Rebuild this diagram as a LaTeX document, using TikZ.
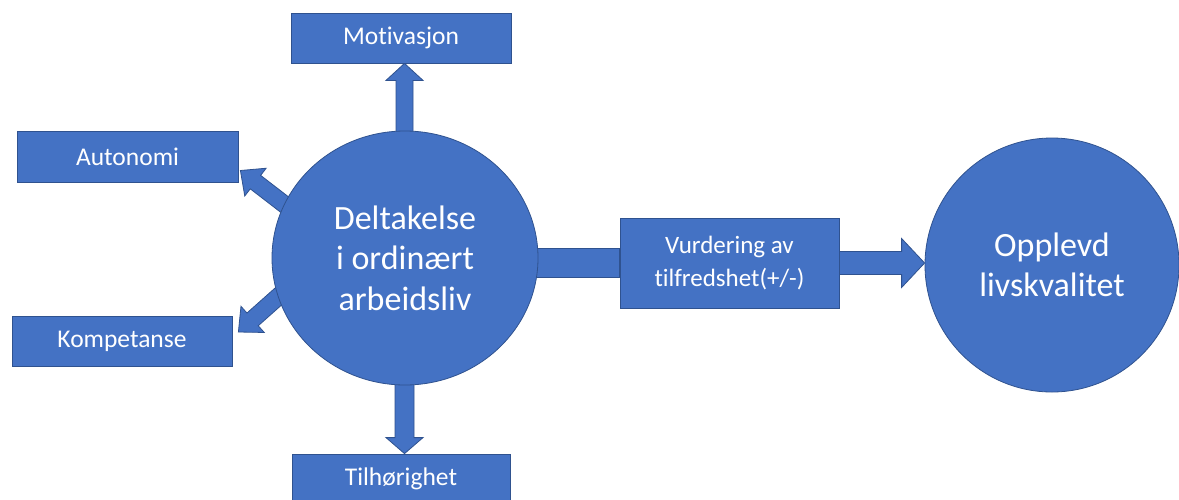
\documentclass[tikz,border=0pt]{standalone}
\usepackage{fontspec}
\setmainfont[Ligatures=NoCommon]{Carlito}
\usetikzlibrary{calc,backgrounds,shapes.geometric}
\definecolor{ofblue}{HTML}{4472C4}
\definecolor{ofedge}{HTML}{2F528F}
% block arrow: from, to, shaft half width, head half width, head length
\newcommand\blockarr[5]{%
  \coordinate (ba-c) at ($(#2)!#5!(#1)$);
  \filldraw[arrowsty] ($(#1)!#3!90:(#2)$) -- ($(ba-c)!#3!90:(#2)$)
    -- ($(ba-c)!#4!90:(#2)$) -- (#2) -- ($(ba-c)!#4!-90:(#2)$)
    -- ($(ba-c)!#3!-90:(#2)$) -- ($(#1)!#3!-90:(#2)$) -- cycle;
}
\begin{document}
\begin{tikzpicture}[x=1pt,y=-1pt,
  boxsty/.style={draw=ofedge, line width=0.8pt, fill=ofblue, text=white,
    inner sep=0pt, font=\fontsize{25.5}{30}\selectfont},
  bigsty/.style={draw=ofedge, line width=0.8pt, fill=ofblue, text=white,
    inner sep=0pt, align=center, font=\fontsize{34}{40.5}\selectfont},
  arrowsty/.style={draw=ofedge, line width=0.8pt, fill=ofblue, line join=miter}]
\useasboundingbox (0,0) rectangle (1179,499);

\node[bigsty, ellipse, minimum width=266pt, minimum height=254pt] (D) at (405,258)
  {Deltakelse\\i ordinært\\arbeidsliv};
\node[bigsty, circle, minimum size=254pt] (O) at (1052,265)
  {Opplevd\\livskvalitet};

\node[boxsty, minimum width=220pt, minimum height=50pt] (mot) at (401,38) {Motivasjon};
\node[boxsty, minimum width=221pt, minimum height=51pt] (aut) at (127.5,156.5) {Autonomi};
\node[boxsty, minimum width=220pt, minimum height=50pt] (kom) at (122,341) {Kompetanse};
\node[boxsty, minimum width=218pt, minimum height=50pt] (til) at (401,479) {Tilhørighet};
\node[boxsty, align=center, minimum width=219pt, minimum height=90pt,
  font=\fontsize{25}{33}\selectfont] (vur) at (729.5,263) {Vurdering av\\tilfredshet(+/-)};

\coordinate (mtip) at ($(mot.south)+(3.5,0)$);
\coordinate (ttip) at ($(til.north)+(3.5,0)$);
\coordinate (atip) at ($(aut.east)+(2,14)$);
\coordinate (ktip) at ($(kom.east)+(6,-9)$);
\coordinate (otip) at (O.west |- vur.east);

\begin{pgfonlayer}{background}
  \fill[white] (0,0) rectangle (1179,499);
  \coordinate (mst) at ($(D.north -| mtip)+(0,8)$);
  \blockarr{mst}{mtip}{8.5pt}{18.5pt}{17pt}
  \coordinate (tst) at ($(D.south -| ttip)+(0,-8)$);
  \blockarr{tst}{ttip}{9.5pt}{18.5pt}{16pt}
  \coordinate (ast) at ($(D.156)!-8pt!(atip)$);
  \blockarr{ast}{atip}{8.5pt}{17.5pt}{19pt}
  \coordinate (kst) at ($(D.197)!-8pt!(ktip)$);
  \blockarr{kst}{ktip}{8.5pt}{17.5pt}{19pt}
  \filldraw[arrowsty] ($(D.east |- vur.west)+(-8,-14.5)$) rectangle ($(vur.west)+(0,14.5)$);
  \blockarr{vur.east}{otip}{11.5pt}{24.5pt}{23pt}
\end{pgfonlayer}
\end{tikzpicture}
\end{document}
